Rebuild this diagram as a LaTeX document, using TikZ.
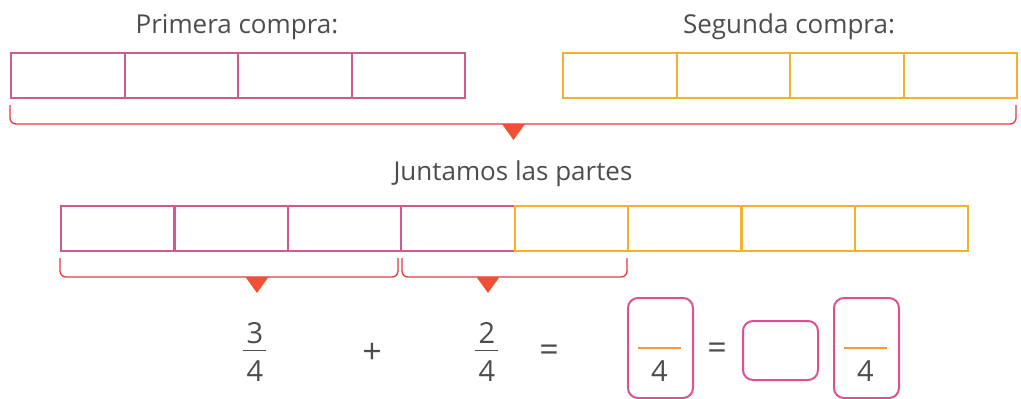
\documentclass[tikz,border=0pt]{standalone}
\usepackage{fontspec}
\setmainfont{Open Sans}
\definecolor{barpink}{HTML}{CC5B8F}
\definecolor{barorange}{HTML}{F7B02E}
\definecolor{bracered}{HTML}{E8383D}
\definecolor{trired}{HTML}{EF5036}
\definecolor{boxpink}{HTML}{E0508F}
\definecolor{txt}{HTML}{4D4D4D}
\definecolor{dashor}{HTML}{F39A3B}
\begin{document}
\begin{tikzpicture}[x=1pt,y=-1pt,
  pcell/.style={draw=barpink,line width=2pt,minimum width=113.5pt,minimum height=45pt,inner sep=0pt,anchor=north west},
  ocell/.style={draw=barorange,line width=2pt,minimum width=113.5pt,minimum height=45pt,inner sep=0pt,anchor=north west},
  brace/.style={draw=bracered,line width=1.3pt,rounded corners=6pt},
  tri/.style={fill=trired},
  lbl/.style={text=txt,font=\fontsize{26}{30}\selectfont,inner sep=0pt,anchor=base},
  num/.style={text=txt,font=\fontsize{29}{30}\selectfont,inner sep=0pt},
  op/.style={text=txt,font=\fontsize{34}{36}\selectfont,inner sep=0pt},
  ansbox/.style={draw=boxpink,line width=2pt,rounded corners=10pt,inner sep=0pt,anchor=north west},
]
\useasboundingbox (0,0) rectangle (1021,399);
% titles
\node[lbl] (t1) at (237,33) {Primera compra:};
\node[lbl] (t2) at (789,33) {Segunda compra:};
% top bars
\foreach \i in {0,...,3} {
  \node[pcell] (a\i) at ({10+113.5*\i},52) {};
  \node[ocell] (b\i) at ({562+113.5*\i},52) {};
}
% big brace
\coordinate (bl) at (10,105);
\coordinate (br) at (1016,105);
\draw[brace] (bl) -- (10,124) -- (1016,124) -- (br);
\fill[tri] (502,124) -- (525,124) -- (513.5,140) -- cycle;
% middle label
\node[lbl] (t3) at (513,180) {Juntamos las partes};
% middle bar
\foreach \i in {0,...,3} {
  \node[pcell] (c\i) at ({60+113.4*\i},205) {};
}
\foreach \i in {4,...,7} {
  \node[ocell] (c\i) at ({60+113.4*\i},205) {};
}
% lower braces
\draw[brace] (60,258) -- (60,277) -- (398,277) -- (398,258);
\draw[brace] (402,258) -- (402,277) -- (627,277) -- (627,258);
\fill[tri] (245.5,277) -- (268.5,277) -- (257,293) -- cycle;
\fill[tri] (476.5,277) -- (499.5,277) -- (488,293) -- cycle;
% equation
\node[num] (n1) at (255,333) {3};
\node[num] (d1) at (255,371) {4};
\draw[txt,line width=0.8pt] (243,350) -- (266,350);
\node[op] (plus) at (372,353) {+};
\node[num] (n2) at (487,333) {2};
\node[num] (d2) at (487,371) {4};
\draw[txt,line width=0.8pt] (475,350) -- (498,350);
\node[op] (eq1) at (549,353) {=};
% answer boxes
\node[ansbox,minimum width=65pt,minimum height=100pt] (x1) at (627,297) {};
\draw[dashor,line width=1.5pt] (638,348) -- (681,348);
\node[num] (dx1) at (659.5,371) {4};
\node[op] (eq2) at (717,351) {=};
\node[ansbox,minimum width=75pt,minimum height=59pt] (x2) at (742,320) {};
\node[ansbox,minimum width=65pt,minimum height=100pt] (x3) at (833,297) {};
\draw[dashor,line width=1.5pt] (844,348) -- (887,348);
\node[num] (dx3) at (865.5,371) {4};
\end{tikzpicture}
\end{document}
